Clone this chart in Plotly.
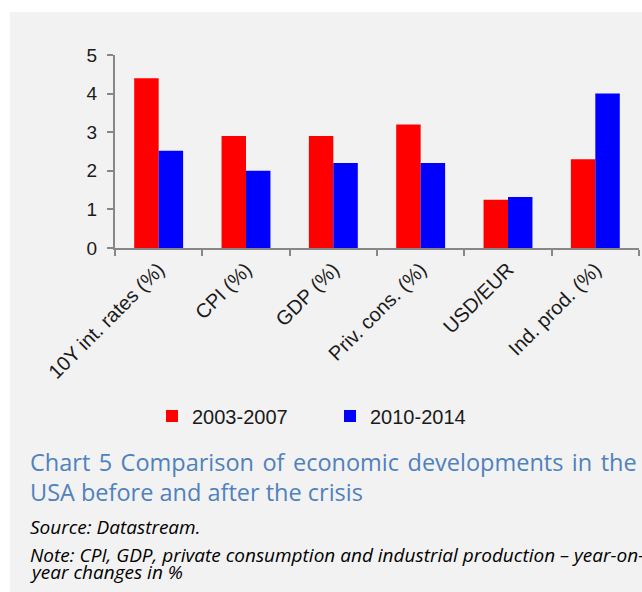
import plotly.graph_objects as go

# Indicators and period averages
categories = ["10Y int. rates (%)", "CPI (%)", "GDP (%)", "Priv. cons. (%)", "USD/EUR", "Ind. prod. (%)"]
period_2003_2007 = [4.4, 2.9, 2.9, 3.2, 1.25, 2.3]
period_2010_2014 = [2.52, 2.0, 2.2, 2.2, 1.32, 4.0]
series_names = ["2003-2007", "2010-2014"]

# First caption line is justified: widen each word gap slightly
caption_line1 = " \u200a".join("Chart 5 Comparison of economic developments in the".split(" "))
caption_line2 = "USA before and after the crisis"
source_text = "Source: Datastream."
note_line1 = "Note: CPI, GDP, private consumption and industrial production \u2013 year-on-"
note_line2 = "year changes in %"

# Page geometry (pixels)
W, H = 642, 592
PLOT_L, PLOT_R, PLOT_T, PLOT_B = 115, 639, 55, 248


def px(x):
    return (x - PLOT_L) / (PLOT_R - PLOT_L)


def py(y):
    return (PLOT_B - y) / (PLOT_B - PLOT_T)


AXIS_COLOR = "#878787"
TEXT_FONT = "Liberation Sans, Arial, sans-serif"
CAPTION_FONT = "Open Sans, Noto Sans, sans-serif"

fig = go.Figure()
fig.add_bar(x=categories, y=period_2003_2007, name=series_names[0],
            marker=dict(color="#ff0000", line=dict(width=0)))
fig.add_bar(x=categories, y=period_2010_2014, name=series_names[1],
            marker=dict(color="#0000ff", line=dict(width=0)))

fig.update_layout(
    width=W, height=H,
    margin=dict(l=PLOT_L, r=W - PLOT_R, t=PLOT_T, b=H - PLOT_B, pad=0),
    paper_bgcolor="#ffffff",
    plot_bgcolor="rgba(0,0,0,0)",
    barmode="group",
    bargap=0.44,
    bargroupgap=0,
    font=dict(family=TEXT_FONT, size=19, color="#1a1a1a"),
    showlegend=True,
    legend=dict(
        orientation="h",
        x=px(152), xanchor="left",
        y=py(416), yanchor="middle",
        bgcolor="rgba(0,0,0,0)",
        font=dict(family=TEXT_FONT, size=20, color="#1a1a1a"),
        itemwidth=30,
        entrywidth=133, entrywidthmode="pixels",
        traceorder="normal",
    ),
    xaxis=dict(
        type="category",
        showline=True, linecolor=AXIS_COLOR, linewidth=2,
        ticks="outside", tickson="boundaries", ticklen=6, tickwidth=2, tickcolor=AXIS_COLOR,
        tickangle=-45,
        tickfont=dict(family=TEXT_FONT, size=20, color="#1a1a1a"),
        showgrid=False, zeroline=False,
        fixedrange=True,
    ),
    yaxis=dict(
        range=[0, 5], dtick=1, tick0=0,
        showline=True, linecolor=AXIS_COLOR, linewidth=2,
        ticks="outside", ticklen=6, tickwidth=2, tickcolor=AXIS_COLOR,
        tickfont=dict(family=TEXT_FONT, size=19, color="#1a1a1a"),
        ticklabelstandoff=6,
        showgrid=False, zeroline=False,
        fixedrange=True,
    ),
)

# Grey panel behind the whole chart
fig.add_shape(type="rect", xref="paper", yref="paper",
              x0=px(10), x1=px(W + 2), y0=py(H + 2), y1=py(12),
              fillcolor="#f2f2f2", line=dict(width=0), layer="below")

caption_color = "#4f81bd"
texts = [
    (caption_line1, 473, dict(family=CAPTION_FONT, size=23.5, color=caption_color)),
    (caption_line2, 503, dict(family=CAPTION_FONT, size=23.5, color=caption_color)),
    ("<i>" + source_text + "</i>", 536, dict(family=CAPTION_FONT, size=19, color="#000000")),
    ("<i>" + note_line1 + "</i>", 564, dict(family=CAPTION_FONT, size=19, color="#000000")),
    ("<i>" + note_line2 + "</i>", 581, dict(family=CAPTION_FONT, size=19, color="#000000")),
]
for text, baseline, font in texts:
    fig.add_annotation(text=text, xref="paper", yref="paper",
                       x=px(29), y=py(baseline + font["size"] * 0.27),
                       xanchor="left", yanchor="bottom",
                       showarrow=False, font=font, borderpad=0)

fig.write_html("out.html")
